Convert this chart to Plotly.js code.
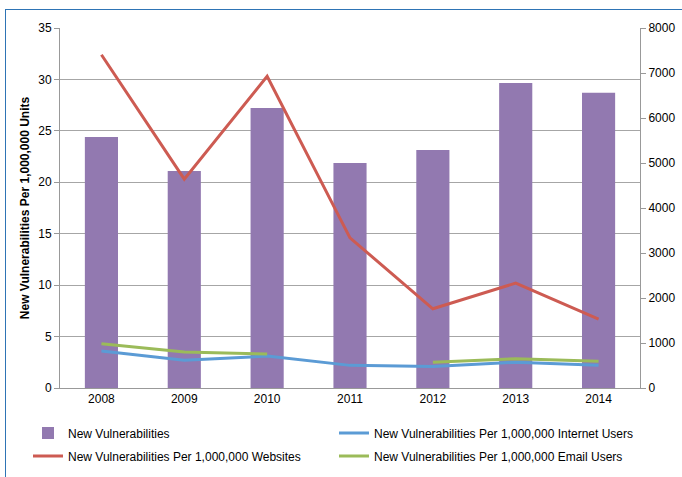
<!DOCTYPE html>
<html>
<head>
<meta charset="utf-8">
<script src="https://cdn.plot.ly/plotly-3.0.1.min.js"></script>
<style>
  html, body { margin: 0; padding: 0; background: #fff; }
  #frame { position: absolute; left: 5px; top: 9px; width: 700px; height: 480px;
           border-left: 1.5px solid #2E74B5; border-top: 1.5px solid #2E74B5; pointer-events: none; }
  #chart { width: 682px; height: 477px; }
</style>
</head>
<body>
<div id="chart"></div>
<div id="frame"></div>
<script>
const years = ['2008', '2009', '2010', '2011', '2012', '2013', '2014'];
const newVulnerabilities = [5580, 4820, 6220, 5000, 5290, 6780, 6560];
const perInternetUsers = [3.6, 2.7, 3.1, 2.2, 2.1, 2.5, 2.2];
const perWebsites = [32.4, 20.3, 30.3, 14.6, 7.7, 10.2, 6.7];
const perEmailUsers = [4.3, 3.5, 3.3, null, 2.5, 2.85, 2.6];

const traces = [
  { type: 'bar', x: years, y: newVulnerabilities, name: 'New Vulnerabilities', yaxis: 'y',
    marker: { color: '#9279B0' }, width: 0.4, legend: 'legend' },
  { type: 'scatter', mode: 'lines', x: years, y: perInternetUsers, yaxis: 'y2',
    name: 'New Vulnerabilities Per 1,000,000 Internet Users', legend: 'legend2',
    line: { color: '#5B9BD5', width: 3 } },
  { type: 'scatter', mode: 'lines', x: years, y: perWebsites, yaxis: 'y2',
    name: 'New Vulnerabilities Per 1,000,000 Websites', legend: 'legend3',
    line: { color: '#CD5B52', width: 3 } },
  { type: 'scatter', mode: 'lines', x: years, y: perEmailUsers, yaxis: 'y2',
    name: 'New Vulnerabilities Per 1,000,000 Email Users', connectgaps: false, legend: 'legend4',
    line: { color: '#9BBB59', width: 3 } }
];

const legendBase = { orientation: 'h', xref: 'container', yref: 'container',
  xanchor: 'left', yanchor: 'middle',
  font: { size: 12 }, bgcolor: 'rgba(0,0,0,0)' };
const W = 682, H = 477;
function leg(px, py) { return Object.assign({}, legendBase, { x: px / W, y: 1 - py / H }); }

const layout = {
  width: W, height: H,
  margin: { l: 60, r: 42, t: 28, b: 89 },
  paper_bgcolor: '#fff', plot_bgcolor: '#fff',
  font: { family: 'Liberation Sans, Arial, sans-serif', size: 12, color: '#000' },
  showlegend: true,
  xaxis: { type: 'category', showline: true, linecolor: '#999', linewidth: 1,
           ticks: '', showgrid: false, zeroline: false, tickfont: { size: 12 } },
  yaxis: { range: [0, 8000], dtick: 1000, side: 'right',
           showline: true, linecolor: '#999', linewidth: 1, ticks: 'outside', ticklen: 5,
           tickcolor: '#999', showgrid: false, zeroline: false },
  yaxis2: { range: [0, 35], dtick: 5, overlaying: 'y', side: 'left',
           showline: true, linecolor: '#999', linewidth: 1,
           ticks: 'outside', ticklen: 5, tickcolor: '#999',
           showgrid: true, gridcolor: '#A6A6A6', gridwidth: 1, zeroline: false,
           title: { text: 'New Vulnerabilities Per 1,000,000 Units',
                    font: { size: 12, family: 'Liberation Sans, Arial, sans-serif', weight: 'bold' }, standoff: 6 } },
  legend: leg(28, 433),
  legend2: leg(334, 433),
  legend3: leg(28, 456),
  legend4: leg(334, 456)
};

Plotly.newPlot('chart', traces, layout, { displayModeBar: false, staticPlot: true });
</script>
</body>
</html>
